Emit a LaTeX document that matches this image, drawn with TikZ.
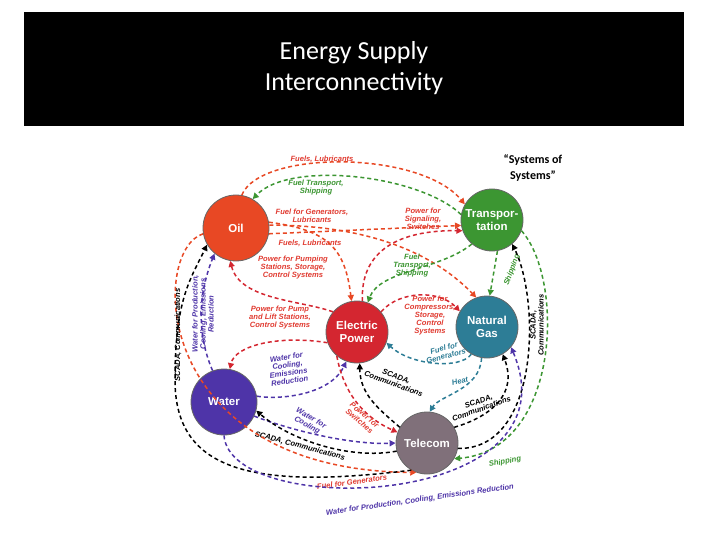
\documentclass[tikz,border=0pt]{standalone}
\usepackage{fontspec}
\setmainfont{Carlito}
\newfontfamily\lab{Liberation Sans}
\usetikzlibrary{arrows.meta}
\definecolor{cOil}{RGB}{232,72,36}
\definecolor{cTr}{RGB}{60,150,50}
\definecolor{cGas}{RGB}{45,125,150}
\definecolor{cEl}{RGB}{212,38,48}
\definecolor{cWa}{RGB}{78,52,168}
\definecolor{cTe}{RGB}{128,112,122}
\definecolor{cLb}{RGB}{225,60,50}
\tikzset{
 ent/.style={circle,draw=black!60,line width=0.8pt,minimum size=66pt,inner sep=0pt,text=white,font=\lab\bfseries\fontsize{11.5}{12.5}\selectfont,align=center},
 con/.style={dashed,line width=1.5pt,dash pattern=on 4pt off 3pt,-{Triangle[length=6pt,width=6pt]}},
 lb/.style={font=\lab\bfseries\itshape\fontsize{7.6}{8}\selectfont,align=center,inner sep=0.5pt}
}
\begin{document}
\begin{tikzpicture}[x=1pt,y=-1pt]
\useasboundingbox (0,0) rectangle (720,540);
\fill[white] (0,0) rectangle (720,540);
\fill[black] (24,12) rectangle (684,126);
\node[text=white,font=\fontsize{26}{31}\selectfont,align=center] (title) at (354,68) {Energy Supply\\Interconnectivity};
\node[font=\bfseries\fontsize{12}{16}\selectfont,align=center] (sos) at (533,168) {``Systems of\\Systems''};

\node[ent,fill=cOil] (oil) at (236,228) {Oil};
\node[ent,fill=cTr,minimum size=62pt] (tr) at (492,220) {Transpor-\\tation};
\node[ent,fill=cGas,minimum size=62pt] (gas) at (487,327) {Natural\\Gas};
\node[ent,fill=cEl,minimum size=62pt] (el) at (357,332) {Electric\\Power};
\node[ent,fill=cWa] (wa) at (224,402) {Water};
\node[ent,fill=cTe,minimum size=62pt] (te) at (427,443) {Telecom};

% oil <-> transport
\draw[con,cOil] (oil.80) .. controls (260,150) and (420,150) .. (tr.150);
\node[lb,text=cLb] (l1) at (322,159) {Fuels, Lubricants};
\draw[con,cTr] (tr.170) .. controls (420,175) and (290,160) .. (oil.60);
\node[lb,text=cTr] (l2) at (316,188) {Fuel Transport,\\Shipping};
\draw[con,cOil] (oil.-10) -- (tr.190);
\node[lb,text=cLb] (l4) at (310,243) {Fuels, Lubricants};
% oil -> electric, gas
\draw[con,cOil] (oil.10) .. controls (330,230) and (345,250) .. (el.100);
\draw[con,cOil] (oil.5) .. controls (380,225) and (440,260) .. (gas.110);
\node[lb,text=cLb] (l3) at (312,216) {Fuel for Generators,\\Lubricants};
% electric -> transport
\draw[con,cEl] (el.80) .. controls (360,250) and (400,230) .. (tr.200);
\node[lb,text=cLb] (l5) at (423,219) {Power for\\Signaling,\\Switches};
% transport -> electric
\draw[con,cTr] (tr.230) .. controls (440,270) and (380,270) .. (el.70);
\node[lb,text=cTr] (l6) at (412,266) {Fuel\\Transport,\\Shipping};
% electric -> oil
\draw[con,cEl] (el.140) .. controls (300,300) and (240,300) .. (oil.-100);
\node[lb,text=cLb] (l7) at (293,268) {Power for Pumping\\Stations, Storage,\\Control Systems};
% transport -> gas
\draw[con,cTr] (tr.-80) -- (gas.85);
\node[lb,text=cTr,rotate=70] (l8) at (512,270) {Shipping};
% electric -> gas
\draw[con,cEl] (el.40) .. controls (400,290) and (440,290) .. (gas.150);
\node[lb,text=cLb] (l10) at (430,316) {Power for\\Compressors,\\Storage,\\Control\\Systems};
% gas -> electric
\draw[con,cGas] (gas.-120) .. controls (460,370) and (410,365) .. (el.-20);
\node[lb,text=cGas,rotate=15] (l11) at (445,352) {Fuel for\\Generators};
% electric -> water
\draw[con,cEl] (el.200) .. controls (280,335) and (235,345) .. (wa.80);
\node[lb,text=cLb] (l12) at (280,318) {Power for Pump\\and Lift Stations,\\Control Systems};
% water -> electric
\draw[con,cWa] (wa.10) .. controls (280,400) and (330,395) .. (el.-110);
\node[lb,text=cWa,rotate=8] (l13) at (288,369) {Water for\\Cooling,\\Emissions\\Reduction};
% telecom -> electric
\draw[con,black] (te.150) .. controls (380,410) and (360,395) .. (el.-85);
\node[lb,rotate=-20] (l14) at (395,380) {SCADA,\\Communications};
% gas -> telecom heat
\draw[con,cGas] (gas.-100) .. controls (480,390) and (440,395) .. (te.85);
\node[lb,text=cGas,rotate=15] (l15) at (460,381) {Heat};
% telecom -> gas
\draw[con,black] (te.30) .. controls (480,420) and (520,400) .. (gas.-60);
\node[lb,rotate=20] (l16) at (480,405) {SCADA,\\Communications};
% electric -> telecom
\draw[con,cEl] (el.-130) .. controls (345,400) and (370,420) .. (te.160);
\node[lb,text=cLb,rotate=-40] (l17) at (362,418) {Power for\\Switches};
% water <-> telecom
\draw[con,cWa] (wa.-25) .. controls (290,430) and (350,445) .. (te.180);
\node[lb,text=cWa,rotate=-30] (l18) at (309,422) {Water for\\Cooling};
\draw[con,black] (te.195) .. controls (350,460) and (290,440) .. (wa.-15);
\node[lb,rotate=-15] (l19) at (300,446) {SCADA, Communications};
% telecom -> transport
\draw[con,black] (te.-10) .. controls (540,450) and (540,300) .. (tr.-50);
\node[lb,rotate=90] (l20) at (537,325) {SCADA,\\Communications};
% transport -> telecom
\draw[con,cTr] (tr.-20) .. controls (565,280) and (560,450) .. (te.-30);
\node[lb,text=cTr,rotate=10] (l21) at (505,462) {Shipping};
% oil -> telecom
\draw[con,cOil] (oil.190) .. controls (150,250) and (150,470) .. (te.-110);
\node[lb,text=cLb,rotate=8] (l22) at (352,482) {Fuel for Generators};
% telecom -> oil
\draw[con,black] (te.-120) .. controls (250,490) and (175,470) .. (175,380) .. controls (175,300) and (190,280) .. (oil.-150);
\node[lb,rotate=90] (l23) at (178,335) {SCADA, Communications};
% water -> oil
\draw[con,cWa] (wa.110) .. controls (195,330) and (200,290) .. (oil.-130);
\node[lb,text=cWa,rotate=90] (l24) at (203,314) {Water for Production,\\Cooling, Emissions\\Reduction};
% water -> gas
\draw[con,cWa] (wa.-90) .. controls (230,520) and (580,510) .. (gas.-40);
\node[lb,text=cWa,rotate=8] (l25) at (420,500) {Water for Production, Cooling, Emissions Reduction};
\end{tikzpicture}
\end{document}
